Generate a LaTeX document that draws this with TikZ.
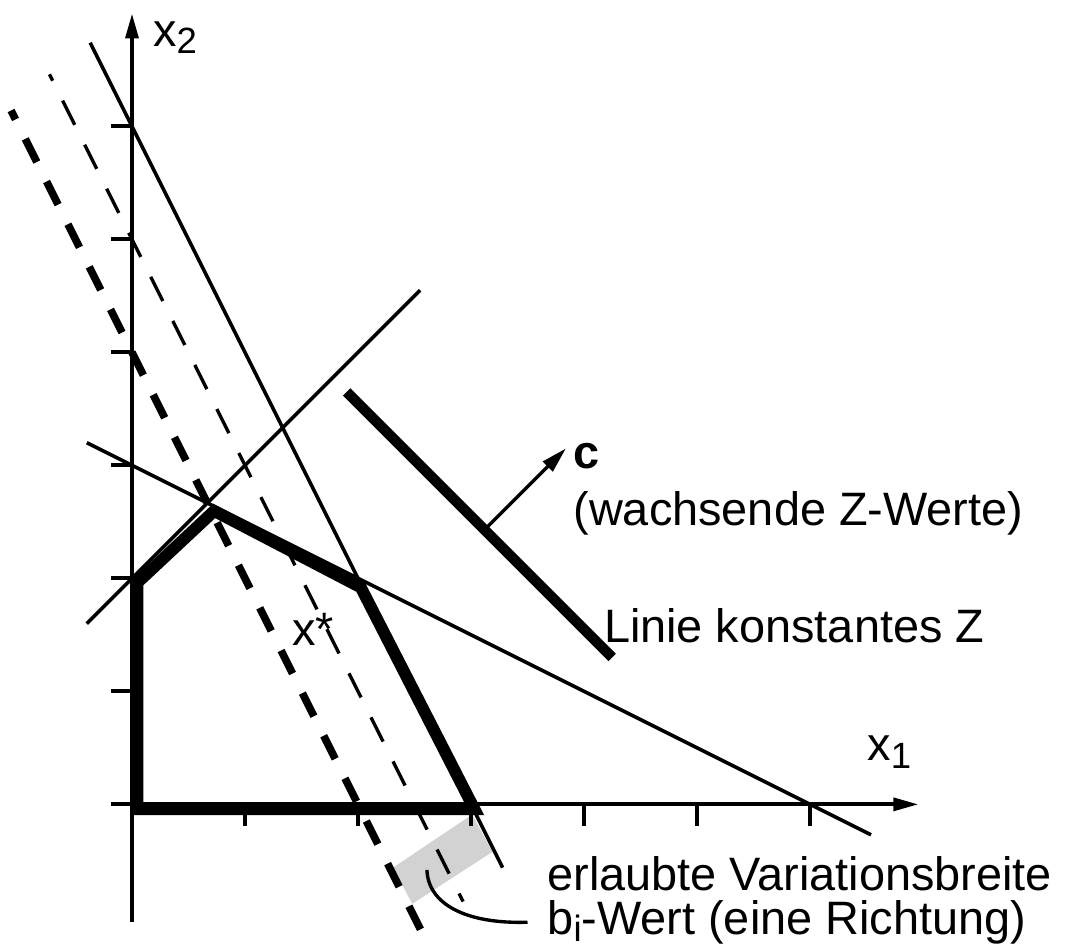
\documentclass[tikz,border=0pt]{standalone}
\usepackage{fontspec}
\setmainfont{Liberation Sans}
\usetikzlibrary{arrows.meta,calc}
\begin{document}
\begin{tikzpicture}[x=1cm,y=1cm,
  axis/.style={line width=1pt,-{Triangle[length=6.3pt,width=3.2pt]}},
  tickmark/.style={line width=1pt},
  constr/.style={line width=0.9pt},
  region/.style={line width=3pt,line join=miter},
  thindash/.style={line width=0.85pt,dash pattern=on 6.8pt off 5.6pt,dash phase=5pt},
  thickdash/.style={line width=1.9pt,dash pattern=on 6.5pt off 5.5pt,dash phase=4pt},
  zline/.style={line width=2.6pt},
  lbl/.style={inner sep=0pt,font=\fontsize{11.8}{14}\selectfont},
]
\useasboundingbox (-1.168,-1.289) rectangle (8.274,7.118);

% allowed variation range (gray)
\fill[gray!35] (2.31,-0.56) -- (2.48,-0.88) -- (3.19,-0.42) -- (3.01,-0.09) -- cycle;

% axes
\draw[axis] (-0.19,0) -- (6.96,0);
\draw[axis] (0,-1.04) -- (0,7.0);
\foreach \i in {1,...,6} {
  \draw[tickmark] (\i,0) -- (\i,-0.19);
  \draw[tickmark] (0,\i) -- (-0.19,\i);
}

% feasible polygon (thick)
\draw[region] (0.049,-0.042) -- (3.03,-0.042) -- (2.025,1.92) -- (0.727,2.597) -- (0.049,1.963) -- cycle;

% constraint lines
\draw[constr] (-0.37,6.74) -- (3.28,-0.56);
\draw[constr] (-0.4,3.2) -- (6.54,-0.27);
\draw[constr] (-0.4,1.6) -- (2.55,4.55);

% shifted constraint (dashed)
\draw[thindash] (-0.73,6.46) -- (2.93,-0.86);
\draw[thickdash] (-1.07,6.14) -- (2.58,-1.16);

% line of constant Z and direction c
\draw[zline] (1.9,3.65) -- (4.25,1.3);
\coordinate (cs) at (3.12,2.43);
\coordinate (ce) at (3.84,3.15);
\draw[line width=0.85pt,-{Triangle[length=6.5pt,width=3.4pt]}] (cs) -- (ce);

% labels
\node[lbl,anchor=base west] (x2) at (0.18,6.71) {x\raisebox{-1.8pt}{\fontsize{9.2}{10}\selectfont 2}};
\node[lbl,anchor=base west] (x1) at (6.50,0.385) {x\raisebox{-1.8pt}{\fontsize{9.2}{10}\selectfont 1}};
\node[lbl,anchor=base west] (xs) at (1.41,1.41) {x*};
\node[lbl,anchor=base west] (c) at (3.90,2.97) {\bfseries c};
\node[lbl,anchor=base west] (cw) at (3.90,2.47) {(wachsende Z-Werte)};
\node[lbl,anchor=base west] (lz) at (4.17,1.43) {Linie konstantes Z};
\node[lbl,anchor=base west] (ev) at (3.67,-0.76) {erlaubte Variationsbreite};
\node[lbl,anchor=base west,inner xsep=0.17cm] (bi) at (3.50,-1.15) {b\raisebox{-1.8pt}{\fontsize{9.2}{10}\selectfont i}-Wert (eine Richtung)};

% connector
\coordinate (gp) at (2.61,-0.58);
\draw[line width=0.85pt] (gp) .. controls (2.62,-0.88) and (2.95,-1.06) .. (bi.west);
\end{tikzpicture}
\end{document}
